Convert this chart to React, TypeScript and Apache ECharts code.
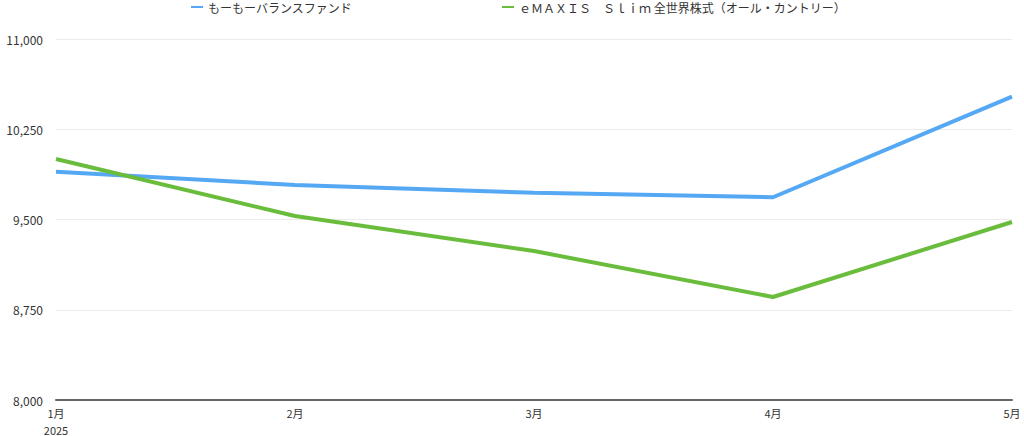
import React, { useEffect, useRef } from "react";
import * as echarts from "echarts";

const categories = ["1月", "2月", "3月", "4月", "5月"];
const yearLabel = "2025";
const seriesNames = ["もーもーバランスファンド", "ｅＭＡＸＩＳ　Ｓｌｉｍ 全世界株式（オール・カントリー）"];
const balanceFund = [9897, 9787, 9722, 9685, 10521];
const allCountry = [10003, 9529, 9238, 8856, 9479];
const yMin = 8000;
const yMax = 11000;
const yInterval = 750;

const FONT = '"Noto Sans CJK JP", "Noto Sans", sans-serif';

export default function App() {
  const ref = useRef<HTMLDivElement>(null);
  useEffect(() => {
    document.body.style.margin = "0";
    const chart = echarts.init(ref.current!, null, { renderer: "svg" });
    chart.setOption({
      animation: false,
      textStyle: { fontFamily: FONT },
      legend: {
        top: -4,
        left: 186,
        itemWidth: 12,
        itemHeight: 2,
        itemGap: 150,
        icon: "rect",
        textStyle: { fontSize: 12, color: "#333", fontFamily: FONT },
        data: seriesNames,
      },
      grid: { left: 56, right: 12, top: 39, bottom: 36, containLabel: false, outerBoundsMode: "none" },
      xAxis: {
        type: "category",
        data: categories,
        boundaryGap: false,
        axisLine: { lineStyle: { color: "#666", width: 2 } },
        axisTick: { show: false },
        axisLabel: {
          color: "#333",
          fontSize: 11,
          margin: 4,
          lineHeight: 17,
          fontFamily: FONT,
          formatter: (v: string, i: number) => (i === 0 ? `${v}\n${yearLabel}` : v),
        },
        splitLine: { show: false },
      },
      yAxis: {
        type: "value",
        min: yMin,
        max: yMax,
        interval: yInterval,
        axisLine: { show: false },
        axisTick: { show: false },
        axisLabel: {
          color: "#333",
          fontSize: 12,
          margin: 13,
          fontFamily: FONT,
          formatter: (v: number) => v.toLocaleString("en-US"),
        },
        splitLine: { lineStyle: { color: "#ebebeb", width: 1 } },
      },
      series: [
        {
          name: seriesNames[0],
          type: "line",
          data: balanceFund,
          showSymbol: false,
          symbol: "none",
          lineStyle: { color: "#55a8f4", width: 4 },
          itemStyle: { color: "#55a8f4" },
        },
        {
          name: seriesNames[1],
          type: "line",
          data: allCountry,
          showSymbol: false,
          symbol: "none",
          lineStyle: { color: "#6abd3c", width: 4 },
          itemStyle: { color: "#6abd3c" },
        },
      ],
    });
    return () => chart.dispose();
  }, []);
  return <div ref={ref} style={{ width: 1024, height: 436 }} />;
}
